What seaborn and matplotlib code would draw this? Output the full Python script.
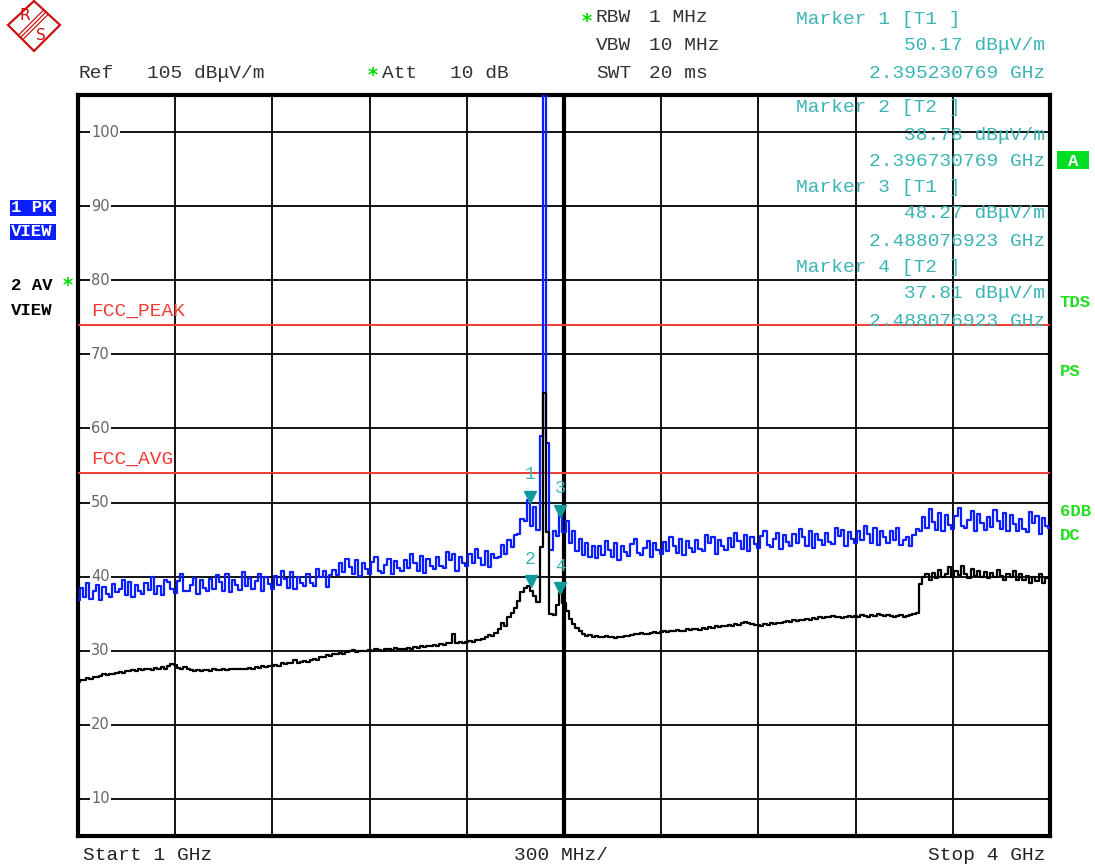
import numpy as np
import pandas as pd
import matplotlib
matplotlib.use("Agg")
import matplotlib.pyplot as plt
from matplotlib.patches import Polygon, Rectangle
from matplotlib.lines import Line2D
import seaborn as sns

# sweep: 1 GHz .. 4 GHz, 301 points
freq_ghz = np.round(np.linspace(1.0, 4.0, 301), 2)

# trace 1 (peak, blue), dBuV/m
pk_level = [
    36.8, 38.5, 37.3, 39.2, 37.0, 38.1, 38.9, 36.9, 38.6, 37.7,
    37.3, 39.0, 37.9, 38.4, 39.6, 37.5, 39.3, 37.2, 38.9, 38.0,
    37.6, 39.1, 38.2, 39.9, 37.7, 38.8, 37.5, 39.6, 39.3, 38.4,
    37.8, 39.4, 40.3, 38.1, 38.0, 38.9, 39.8, 37.7, 39.5, 38.5,
    38.0, 39.7, 38.4, 40.2, 39.3, 38.1, 40.4, 37.9, 39.6, 38.9,
    38.2, 40.6, 38.7, 39.8, 38.3, 39.4, 40.3, 38.0, 39.9, 39.0,
    38.4, 40.1, 38.9, 40.8, 39.7, 38.5, 40.6, 38.3, 40.0, 39.2,
    38.7, 40.3, 39.1, 38.8, 41.0, 39.9, 40.7, 38.6, 40.2, 40.9,
    40.2, 41.8, 40.6, 42.4, 41.3, 40.3, 42.2, 40.1, 41.9, 41.0,
    40.4, 42.0, 42.7, 40.8, 40.5, 41.6, 42.4, 40.3, 42.1, 41.2,
    40.7, 42.3, 41.1, 43.0, 41.9, 40.8, 42.8, 40.5, 42.4, 41.5,
    41.0, 42.6, 41.4, 41.1, 43.3, 42.2, 43.0, 40.8, 42.7, 41.8,
    41.4, 43.0, 41.8, 43.7, 42.5, 41.6, 43.4, 41.3, 43.1, 42.5,
    42.6, 44.3, 43.0, 45.0, 44.0, 45.6, 45.8, 47.8, 47.5, 50.3,
    46.9, 49.4, 46.3, 59.0, 106.0, 58.0, 43.6, 46.2, 45.5, 48.9,
    46.0, 47.5, 44.6, 46.2, 43.5, 45.1, 42.9, 44.6, 42.7, 44.2,
    42.5, 44.1, 42.9, 44.8, 43.6, 42.6, 44.5, 42.3, 44.2, 43.3,
    42.8, 44.4, 45.1, 43.2, 42.9, 43.9, 44.8, 42.6, 44.5, 43.6,
    43.1, 44.7, 43.5, 45.4, 44.2, 43.2, 45.1, 42.9, 44.8, 43.9,
    43.3, 44.9, 43.7, 43.4, 45.6, 44.5, 45.3, 43.1, 45.0, 44.1,
    43.6, 45.2, 44.0, 45.9, 44.8, 43.7, 45.6, 43.4, 45.3, 44.4,
    43.9, 45.5, 46.2, 44.3, 44.0, 45.1, 45.9, 43.7, 45.6, 44.7,
    44.1, 45.7, 44.5, 46.4, 45.3, 44.2, 46.1, 43.9, 45.8, 44.9,
    44.3, 45.9, 44.7, 44.4, 46.6, 45.5, 46.3, 44.1, 46.0, 45.1,
    44.5, 46.1, 44.9, 46.8, 45.7, 44.6, 46.5, 44.3, 46.2, 45.3,
    44.6, 46.2, 44.9, 46.5, 44.3, 45.0, 45.4, 44.2, 45.6, 46.4,
    46.2, 48.0, 46.6, 49.1, 47.4, 46.3, 48.6, 46.1, 48.3, 47.0,
    46.4, 48.2, 49.3, 46.8, 46.5, 47.6, 48.8, 46.2, 48.5, 47.3,
    46.3, 48.0, 46.7, 49.0, 47.5, 46.4, 48.6, 46.1, 48.3, 47.1,
    46.1, 47.8, 46.4, 46.0, 48.7, 47.2, 48.2, 45.8, 47.9, 46.8,
    46.5,
]

# trace 2 (average, black), dBuV/m
av_level = [
    25.8, 26.0, 26.1, 26.3, 26.2, 26.5, 26.4, 26.6, 26.8, 26.7,
    26.9, 26.8, 27.0, 27.1, 27.0, 27.3, 27.2, 27.4, 27.3, 27.5,
    27.4, 27.5, 27.6, 27.4, 27.7, 27.6, 27.8, 27.5, 27.9, 28.2,
    28.1, 27.7, 27.6, 27.8, 27.5, 27.4, 27.3, 27.4, 27.3, 27.4,
    27.4, 27.3, 27.5, 27.4, 27.4, 27.5, 27.4, 27.5, 27.6, 27.5,
    27.5, 27.6, 27.5, 27.7, 27.6, 27.8, 27.7, 27.9, 27.8, 28.0,
    27.9, 28.1, 28.0, 28.3, 28.2, 28.4, 28.3, 28.8, 28.4, 28.5,
    28.6, 28.5, 28.8, 28.9, 28.8, 29.2, 29.1, 29.4, 29.3, 29.6,
    29.5, 29.7, 29.6, 29.8, 29.9, 30.1, 29.8, 30.0, 29.9, 30.0,
    30.1, 30.0, 30.2, 30.1, 30.0, 30.3, 30.2, 30.1, 30.4, 30.2,
    30.2, 30.3, 30.4, 30.3, 30.5, 30.4, 30.6, 30.5, 30.7, 30.6,
    30.8, 30.7, 30.9, 30.8, 31.0, 31.1, 32.3, 31.0, 31.2, 31.1,
    31.2, 31.3, 31.2, 31.5, 31.4, 31.6, 31.8, 32.1, 32.0, 32.4,
    32.9, 33.8, 33.4, 34.6, 35.1, 35.8, 36.7, 37.9, 38.5, 38.8,
    38.0, 37.4, 36.6, 44.0, 64.8, 46.0, 35.0, 34.8, 36.2, 37.8,
    36.4, 35.4, 34.3, 33.6, 33.1, 32.6, 32.3, 32.0, 32.1, 31.9,
    32.0, 31.8, 31.9, 32.0, 31.8, 31.9, 31.7, 31.9, 31.8, 32.0,
    32.0, 32.1, 32.3, 32.2, 32.4, 32.3, 32.2, 32.4, 32.5, 32.4,
    32.5, 32.6, 32.5, 32.7, 32.6, 32.8, 32.7, 32.6, 32.9, 32.8,
    32.9, 33.0, 32.8, 33.1, 33.0, 33.2, 33.1, 33.3, 33.2, 33.4,
    33.3, 33.5, 33.4, 33.6, 33.5, 33.7, 33.9, 33.8, 33.6, 33.5,
    33.5, 33.4, 33.6, 33.5, 33.7, 33.6, 33.8, 33.7, 33.9, 34.0,
    33.9, 34.1, 34.0, 34.2, 34.1, 34.3, 34.2, 34.4, 34.3, 34.5,
    34.4, 34.6, 34.5, 34.7, 34.6, 34.5, 34.4, 34.6, 34.7, 34.6,
    34.7, 34.6, 34.8, 34.7, 34.6, 34.8, 34.7, 34.9, 34.8, 34.7,
    34.8, 34.7, 34.6, 34.7, 34.8, 34.6, 34.7, 34.8, 35.0, 35.1,
    39.0, 39.9, 40.3, 39.5, 40.5, 39.8, 40.9, 39.9, 40.4, 41.3,
    40.0, 40.8, 40.2, 41.5, 40.3, 39.8, 41.0, 40.1, 40.7, 40.0,
    40.6, 39.8, 40.5, 40.0, 40.9, 40.1, 39.6, 40.4, 39.9, 40.7,
    39.6, 40.3, 39.5, 40.1, 39.2, 40.0, 39.4, 40.3, 39.1, 39.8,
    39.9,
]

# limit lines
limit_names = ["FCC_PEAK", "FCC_AVG"]
limit_levels = [74, 54]

# markers
marker_ids = ["1", "2", "3", "4"]
marker_traces = ["T1", "T2", "T1", "T2"]
marker_freq = [2.395230769, 2.396730769, 2.488076923, 2.488076923]
marker_level = [50.17, 38.78, 48.27, 37.81]

y_ticks = [10, 20, 30, 40, 50, 60, 70, 80, 90, 100]

df = pd.DataFrame({
    "freq": np.concatenate([freq_ghz, freq_ghz]),
    "level": pk_level + av_level,
    "trace": ["1 PK"] * len(freq_ghz) + ["2 AV"] * len(freq_ghz),
})

sns.set_style("white")
plt.rcParams["font.family"] = ["Liberation Mono", "DejaVu Sans"]

W, H = 1095, 867
fig = plt.figure(figsize=(W / 100, H / 100), dpi=100)
ax = fig.add_axes([78 / W, 1 - 836 / H, 972 / W, 741 / H])


def P(x, y):
    return x / W, 1 - y / H


def ftext(x, y, s, **kw):
    kw.setdefault("va", "center")
    kw.setdefault("fontsize", 14)
    kw.setdefault("color", "#333333")
    fig.text(*P(x, y), s, **kw)


def star(x, y):
    ftext(x, y + 3, "*", color="#00dd00", fontsize=14, fontweight="bold",
          family="DejaVu Sans")


sns.lineplot(data=df, x="freq", y="level", hue="trace",
             palette={"1 PK": "#0a1eff", "2 AV": "black"},
             estimator=None, sort=True, legend=False, ax=ax,
             drawstyle="steps-mid", lw=1.6, zorder=4)

ax.set_xlim(1.0, 4.0)
ax.set_ylim(5, 105)
ax.set_xticks(np.arange(1.3, 3.95, 0.3))
ax.set_yticks(y_ticks)
ax.grid(True, color="black", lw=1.3, zorder=1)
ax.tick_params(length=0, labelbottom=False, labelleft=False)
ax.set_xlabel("")
ax.set_ylabel("")
for sp in ax.spines.values():
    sp.set_visible(True)
    sp.set_linewidth(3)
    sp.set_color("black")
ax.axvline(2.5, color="black", lw=3, zorder=3)

# y labels inside the frame
for v in y_ticks:
    ax.text(0.0134, v, str(v), transform=ax.get_yaxis_transform(),
            ha="left", va="center", fontsize=10.5, color="#666666",
            family="DejaVu Sans", zorder=2,
            bbox=dict(facecolor="white", edgecolor="none", pad=1))

# limit lines
for name, lv in zip(limit_names, limit_levels):
    ax.axhline(lv, color="#f03c32", lw=1.4, zorder=3)
    ax.text(0.0134, lv + 1.8, name, transform=ax.get_yaxis_transform(),
            ha="left", va="center", fontsize=14, color="#f03c32")

# markers
for mid, f, lv in zip(marker_ids, marker_freq, marker_level):
    ax.plot([f], [lv + 0.6], marker="v", ms=8, color="#0f9a9a",
            ls="none", zorder=6)
    ax.text(f, lv + 3.6, mid, ha="center", va="center", fontsize=13,
            color="#3cb4b4", zorder=6)

# header
ftext(79, 73, "Ref")
ftext(147, 73, "105 dB\u03bcV/m")
star(368, 73)
ftext(382, 73, "Att")
ftext(450, 73, "10 dB")
star(582, 18)
ftext(596, 18, "RBW")
ftext(649, 18, "1 MHz")
ftext(596, 46, "VBW")
ftext(649, 46, "10 MHz")
ftext(596, 73, "SWT")
ftext(649, 73, "20 ms")

mk_col = "#3cb4b4"
mk_rows = [19, 108, 187, 267]
for i, (mid, tr, f, lv) in enumerate(zip(marker_ids, marker_traces,
                                         marker_freq, marker_level)):
    y0 = mk_rows[i]
    ftext(796, y0, f"Marker {mid} [{tr} ]", color=mk_col)
    ftext(1045, y0 + 27, f"{lv:.2f} dB\u03bcV/m", color=mk_col, ha="right")
    ftext(1045, y0 + 54, f"{f:.9f} GHz", color=mk_col, ha="right")

# bottom
ftext(83, 856, "Start 1 GHz", color="#222222")
ftext(514, 856, "300 MHz/", color="#222222")
ftext(1045, 856, "Stop 4 GHz", color="#222222", ha="right")

# left side trace labels
bold = dict(family=["Liberation Mono", "DejaVu Sans"], fontweight="bold",
            fontsize=12.5)
for y0, s in [(208, "1 PK"), (232, "VIEW")]:
    fig.patches.append(Rectangle(P(10, y0 + 8), 46 / W, 16 / H,
                                 transform=fig.transFigure,
                                 facecolor="#0a1eff", edgecolor="none"))
    ftext(11, y0, s, color="white", **bold)
ftext(11, 286, "2 AV", color="black", **bold)
star(63, 283)
ftext(11, 310, "VIEW", color="black", **bold)

# right side status labels
fig.patches.append(Rectangle(P(1057, 169), 32 / W, 18 / H,
                             transform=fig.transFigure,
                             facecolor="#00dd22", edgecolor="none"))
ftext(1073, 161, "A", color="white", ha="center", **bold)
for y0, s in [(302, "TDS"), (372, "PS"), (512, "6DB"), (536, "DC")]:
    ftext(1060, y0, s, color="#22dd22", **bold)

# R&S logo
red = "#cc1111"
fig.patches.append(Polygon([P(34, 1), P(60, 25), P(34, 51), P(8, 25)],
                           closed=True, transform=fig.transFigure,
                           facecolor="white", edgecolor=red, lw=1.6))
for d in (-2.2, 0, 2.2):
    x0, y0 = P(46 + d, 12 + d)
    x1, y1 = P(21 + d, 37 + d)
    fig.lines.append(Line2D([x0, x1], [y0, y1], transform=fig.transFigure,
                            color=red, lw=0.9))
ftext(25, 15, "R", color=red, fontsize=11, ha="center",
      family="DejaVu Sans")
ftext(41, 35, "S", color=red, fontsize=11, ha="center",
      family="DejaVu Sans")

fig.savefig("out.png", dpi=100)
